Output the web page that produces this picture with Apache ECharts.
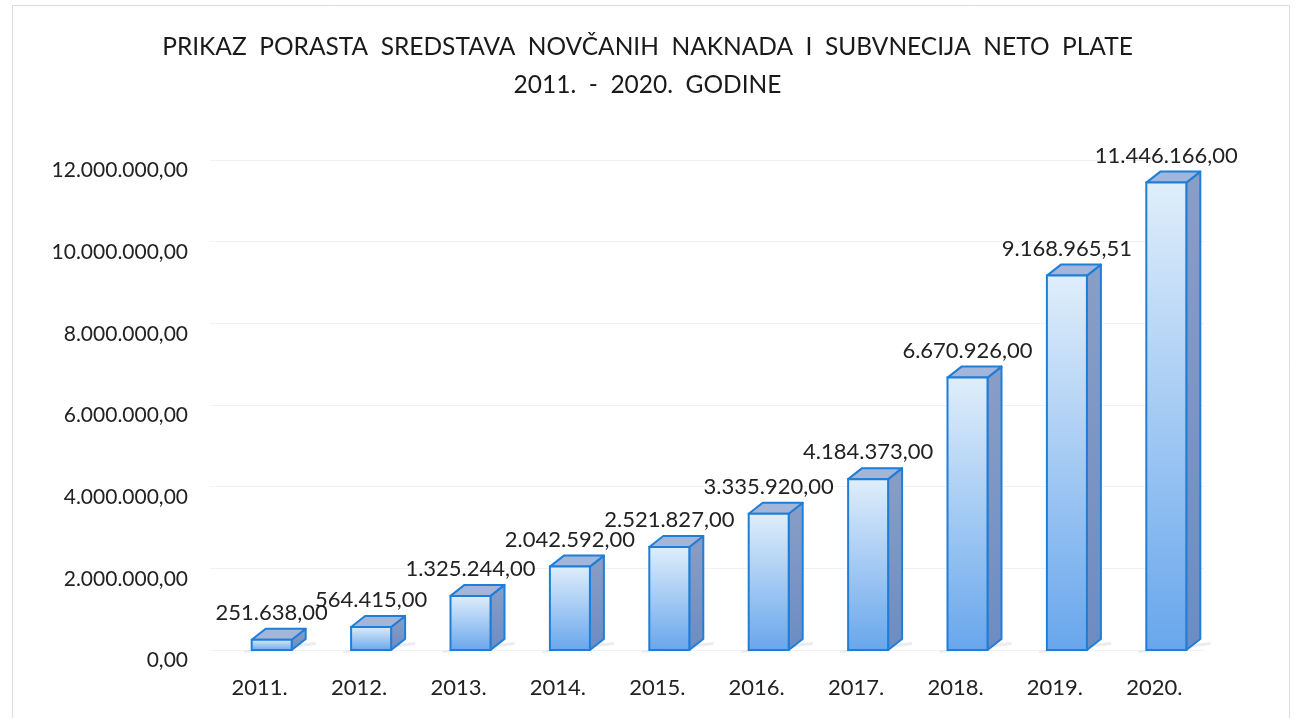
<!DOCTYPE html>
<html>
<head>
<meta charset="utf-8">
<script src="https://cdn.jsdelivr.net/npm/echarts@6/dist/echarts.min.js"></script>
<style>
html,body{margin:0;padding:0;background:#fff;}
#c{width:1295px;height:718px;}
</style>
</head>
<body>
<div id="c"></div>
<script>
var categories = ['2011.', '2012.', '2013.', '2014.', '2015.', '2016.', '2017.', '2018.', '2019.', '2020.'];
var values = [251638.00, 564415.00, 1325244.00, 2042592.00, 2521827.00, 3335920.00, 4184373.00, 6670926.00, 9168965.51, 11446166.00];
var titleLines = ['PRIKAZ  PORASTA  SREDSTAVA  NOVČANIH  NAKNADA  I  SUBVNECIJA  NETO  PLATE', '2011.  -  2020.  GODINE'];
var yMin = 0, yMax = 12000000, yStep = 2000000;

function fmt(v) {
  var s = Number(v).toFixed(2);
  var parts = s.split('.');
  var intPart = parts[0].replace(/\B(?=(\d{3})+(?!\d))/g, '.');
  return intPart + ',' + parts[1];
}

var FONT = 'Lato';
var OFF = 12, W = 40, DX = 14, DY = -11;

var chart = echarts.init(document.getElementById('c'), null, {renderer: 'canvas'});
var option = {
  backgroundColor: '#ffffff',
  animation: false,
  title: {
    text: titleLines.join('\n'),
    left: 'center',
    top: 23,
    textStyle: {fontFamily: FONT, fontSize: 24.5, fontWeight: 'normal', color: '#1a1a1a', lineHeight: 38}
  },
  graphic: [{
    type: 'polyline',
    shape: {points: [[12.5, 730], [12.5, 5.5], [1289.5, 5.5], [1289.5, 730]]},
    style: {stroke: '#dcdcdc', lineWidth: 1, fill: null},
    silent: true
  }],
  grid: {left: 210, right: 91, top: 160, bottom: 68, containLabel: false},
  xAxis: {
    type: 'category',
    data: categories,
    axisLine: {show: false},
    axisTick: {show: false},
    axisLabel: {fontFamily: FONT, fontSize: 22, color: '#222', margin: 27}
  },
  yAxis: {
    type: 'value',
    min: yMin, max: yMax, interval: yStep,
    axisLine: {show: false},
    axisTick: {show: false},
    splitLine: {lineStyle: {color: '#f2f2f2', width: 1}},
    axisLabel: {
      fontFamily: FONT, fontSize: 21, color: '#222', margin: 22,
      verticalAlign: 'top', lineHeight: 21,
      formatter: function (v) { return fmt(v); }
    }
  },
  series: [{
    type: 'custom',
    data: values.map(function (v, i) { return [i, v]; }),
    renderItem: function (params, api) {
      var idx = api.value(0), v = api.value(1);
      var top = api.coord([idx, v]);
      var base = api.coord([idx, 0]);
      var cx = top[0] + OFF;
      var x0 = cx - W / 2, x1 = cx + W / 2, yT = top[1], yB = base[1];
      var stroke = '#1f7fd8';
      return {
        type: 'group',
        children: [
          {
            type: 'polygon',
            shape: {points: [[x0 - 8, yB + 1], [x1 + DX + 10, yB + DY + 3], [x1 + DX + 10, yB + DY + 6], [x0 - 8, yB + 3]]},
            style: {fill: 'rgba(150,150,170,0.18)'},
            z2: 0
          },
          {
            type: 'polygon',
            shape: {points: [[x1, yT], [x1 + DX, yT + DY], [x1 + DX, yB + DY], [x1, yB]]},
            style: {
              fill: new echarts.graphic.LinearGradient(0, 0, 0, 1, [
                {offset: 0, color: '#8a9ec6'}, {offset: 1, color: '#6c8cc2'}]),
              stroke: stroke, lineWidth: 2, lineJoin: 'round'
            },
            z2: 1
          },
          {
            type: 'polygon',
            shape: {points: [[x0, yT], [x0 + DX, yT + DY], [x1 + DX, yT + DY], [x1, yT]]},
            style: {fill: '#a3b5d9', stroke: stroke, lineWidth: 2, lineJoin: 'round'},
            z2: 2
          },
          {
            type: 'rect',
            shape: {x: x0, y: yT, width: W, height: yB - yT},
            style: {
              fill: new echarts.graphic.LinearGradient(0, 0, 0, 1, [
                {offset: 0, color: '#e0eefa'}, {offset: 1, color: '#68a6ec'}]),
              stroke: stroke, lineWidth: 2
            },
            z2: 3
          }
        ]
      };
    },
    z: 2
  }, {
    type: 'bar',
    data: values,
    barWidth: W,
    itemStyle: {color: 'rgba(0,0,0,0)'},
    label: {
      show: true, position: 'top', distance: 16, offset: [OFF, 0],
      fontFamily: FONT, fontSize: 22, color: '#222',
      formatter: function (p) { return fmt(p.value); }
    },
    silent: true,
    z: 3
  }]
};
chart.setOption(option);
</script>
</body>
</html>
